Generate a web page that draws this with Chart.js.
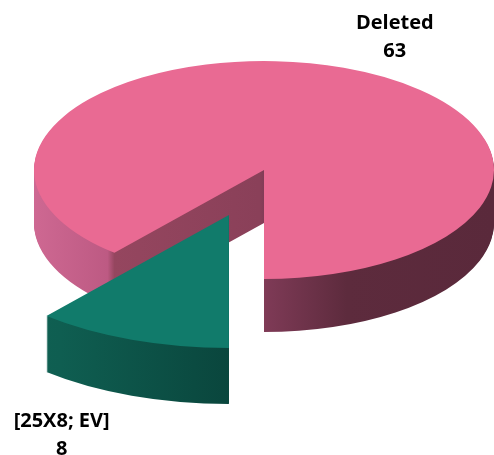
<!DOCTYPE html>
<html>
<head>
<meta charset="utf-8">
<script src="https://cdn.jsdelivr.net/npm/chart.js@4"></script>
<style>
  html, body { margin: 0; padding: 0; background: #fff; }
  #chart { display: block; }
</style>
</head>
<body>
<canvas id="chart" width="494" height="455"></canvas>
<script>
const categories = ['Deleted', '[25X8; EV]'];
const counts = [63, 8];

const topColors = ['#E96A93', '#117B6B'];
// side wall colours, left -> right across the pie width
const sideStops = [
  [[0, '#CE6892'], [0.16, '#BD5A83'], [0.175, '#95465F'], [0.49, '#8A4059'],
   [0.505, '#7E3A56'], [0.68, '#5D2B3D'], [1, '#5A293B']],
  [[0, '#106555'], [0.2, '#0F5E51'], [0.5, '#0A463D'], [1, '#0A463D']]
];

const total = counts.reduce((a, b) => a + b, 0);

// fake 3D pie: squash the flat pie and stack it to build the walls
const pie3d = {
  id: 'pie3d',
  beforeDatasetsDraw(chart, args, opts) {
    const ctx = chart.ctx;
    const meta = chart.getDatasetMeta(0);
    meta.data.forEach((arc, i) => {
      const p = arc.getProps(['x', 'y', 'outerRadius', 'startAngle', 'endAngle'], true);
      const r = p.outerRadius;
      const sx = opts.radiusX / r, sy = opts.radiusY / r;
      const mid = (p.startAngle + p.endAngle) / 2;
      const ex = Math.cos(mid) * opts.explode[i] * r;
      const ey = Math.sin(mid) * opts.explode[i] * r;
      const k = opts.grow[i];

      const place = (dy) => {
        ctx.translate(opts.centerX, opts.centerY + dy);
        ctx.scale(sx, sy);
        ctx.translate(ex, ey);
        ctx.scale(k, k);
        ctx.translate(-p.x, -p.y);
      };

      // walls
      const grad = ctx.createLinearGradient(p.x - r, 0, p.x + r, 0);
      sideStops[i].forEach(s => grad.addColorStop(s[0], s[1]));
      const side = Object.create(arc);
      side.options = Object.assign({}, arc.options, { backgroundColor: grad, borderWidth: 0 });
      for (let d = opts.depth[i]; d >= 1; d--) {
        ctx.save();
        place(d);
        arc.draw.call(side, ctx);
        ctx.restore();
      }

      // top face
      ctx.save();
      place(0);
      arc.draw(ctx);
      ctx.restore();

      // label
      const lf = opts.labelRadius[i];
      const vx = opts.centerX + ex * sx;
      const vy = opts.centerY + ey * sy;
      const lx = vx + Math.cos(mid) * opts.radiusX * k * lf[0];
      const ly = vy + Math.sin(mid) * opts.radiusY * k * lf[1];
      ctx.save();
      ctx.fillStyle = '#000';
      ctx.font = 'bold 20px "Open Sans", sans-serif';
      ctx.textAlign = 'center';
      ctx.textBaseline = 'middle';
      ctx.fillText(chart.data.labels[i], lx, ly - 14);
      ctx.fillText(String(chart.data.datasets[0].data[i]), lx, ly + 14);
      ctx.restore();
    });
    return false;
  }
};

new Chart(document.getElementById('chart'), {
  type: 'pie',
  data: {
    labels: categories,
    datasets: [{
      data: counts,
      backgroundColor: topColors,
      borderWidth: 0
    }]
  },
  options: {
    responsive: false,
    animation: false,
    rotation: 90 + 90 + 360 * counts[1] / total,
    plugins: {
      legend: { display: false },
      tooltip: { enabled: false },
      pie3d: {
        centerX: 264,
        centerY: 170,
        radiusX: 230,
        radiusY: 109,
        explode: [0, 0.44],
        grow: [1, 1.22],
        depth: [53, 56],
        labelRadius: [[1.64, 1.30], [1.72, 1.77]]
      }
    }
  },
  plugins: [pie3d]
});
</script>
</body>
</html>
